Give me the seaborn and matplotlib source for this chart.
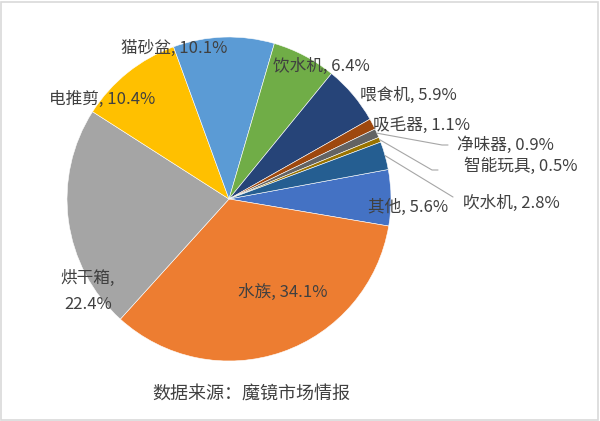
import numpy as np
import seaborn as sns
import matplotlib.pyplot as plt
from matplotlib.patches import Rectangle

# data (slice order as drawn, clockwise from ~3 o'clock)
categories = ['其他', '水族', '烘干箱', '电推剪', '猫砂盆', '饮水机',
              '喂食机', '吸毛器', '净味器', '智能玩具', '吹水机']
shares = [5.6, 34.1, 22.4, 10.4, 10.1, 6.4, 5.9, 1.1, 0.9, 0.5, 2.8]
slice_colors = ['#4472C4', '#ED7D31', '#A5A5A5', '#FFC000', '#5B9BD5', '#70AD47',
                '#264478', '#9E480E', '#636363', '#997300', '#255E91']
source_note = '数据来源：魔镜市场情报'

# layout (pixel positions of labels, y measured from top)
W, H = 600, 421
CX, CY, R = 229, 199, 162
label_pos = {
    '其他': (368, 207, 'left'),
    '水族': (283, 292, 'center'),
    '烘干箱': (88, 291, 'center'),
    '电推剪': (102, 99, 'center'),
    '猫砂盆': (174, 48, 'center'),
    '饮水机': (321, 66, 'center'),
    '喂食机': (360, 95, 'left'),
    '吸毛器': (373, 125, 'left'),
    '净味器': (457, 145, 'left'),
    '智能玩具': (464, 166, 'left'),
    '吹水机': (463, 203, 'left'),
}
leader_end = {
    '净味器': [(442, 145), (448, 145)],
    '智能玩具': [(432, 170), (438, 170)],
    '吹水机': [(453, 197)],
}

sns.set_theme(style='white')
plt.rcParams['font.family'] = ['Noto Sans CJK SC', 'DejaVu Sans']

fig = plt.figure(figsize=(W / 100, H / 100), dpi=100)
ax = fig.add_axes([0, 0, 1, 1])
ax.axis('off')

palette = sns.color_palette(slice_colors)
wedges, _ = ax.pie(shares, colors=palette, startangle=10.5, counterclock=False,
                   center=(CX, H - CY), radius=R,
                   wedgeprops=dict(edgecolor='white', linewidth=0.4))
ax.set_xlim(0, W)
ax.set_ylim(0, H)
ax.set_aspect('equal')

txt_color = '#404040'
for w, name, val in zip(wedges, categories, shares):
    x, y, ha = label_pos[name]
    if name == '烘干箱':
        s = f'{name},\n{val}%'
    else:
        s = f'{name}, {val}%'
    ax.text(x, H - y, s, ha=ha, va='center', fontsize=12, color=txt_color,
            linespacing=1.7)
    if name in leader_end:
        mid = np.deg2rad((w.theta1 + w.theta2) / 2)
        pts = [(CX + R * np.cos(mid), CY - R * np.sin(mid))] + leader_end[name]
        ax.plot([p[0] for p in pts], [H - p[1] for p in pts],
                color='#A6A6A6', lw=0.8)

ax.text(251, H - 394, source_note, ha='center', va='center', fontsize=13,
        color=txt_color)

fig.patches.append(Rectangle((0.002, 0.003), 0.994, 0.992, transform=fig.transFigure,
                             fill=False, edgecolor='#D9D9D9', lw=1.2))

fig.savefig('out.png', dpi=100)
